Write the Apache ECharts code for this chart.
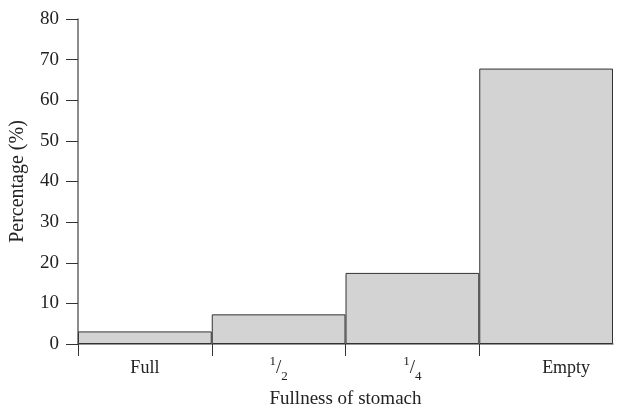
<!DOCTYPE html>
<html>
<head>
<meta charset="utf-8">
<style>
  html, body { margin: 0; padding: 0; background: #fff; }
  #chart { width: 619px; height: 408px; }
</style>
<script src="https://cdn.jsdelivr.net/npm/echarts@6/dist/echarts.min.js"></script>
</head>
<body>
<div id="chart"></div>
<script>
// Stomach fullness categories and the share of fish in each (%)
const categories = ['Full', '1/2', '1/4', 'Empty'];
const percentages = [3.1, 7.3, 17.5, 67.8];
const yTicks = { min: 0, max: 80, step: 10 };

const serif = '"Liberation Serif", "Times New Roman", serif';
const ink = '#222';
const chart = echarts.init(document.getElementById('chart'));

// Fractions are drawn as a raised numerator and lowered denominator
function categoryLabel(value, index) {
  const parts = value.split('/');
  if (parts.length === 2) {
    return '{n|' + parts[0] + '}{s|/}{d|' + parts[1] + '}';
  }
  if (index === categories.length - 1) {
    return '{shift|' + value + '}';
  }
  return '{t|' + value + '}';
}

// Bin boundaries for the tick marks under the category axis (no mark at the far end)
const boundaries = categories.map((_, i) => i);

chart.setOption({
  animation: false,
  backgroundColor: '#fff',
  grid: { left: 78, right: 6, top: 19, bottom: 64, containLabel: false, outerBoundsMode: 'none' },
  xAxis: [{
    type: 'category',
    data: categories,
    boundaryGap: true,
    name: 'Fullness of stomach',
    nameLocation: 'middle',
    nameGap: 46,
    nameTextStyle: { fontFamily: serif, fontSize: 19, color: ink },
    axisLine: { show: true, lineStyle: { color: '#777', width: 1.5 } },
    axisTick: { show: false },
    axisLabel: {
      margin: 8,
      formatter: categoryLabel,
      rich: {
        t: { fontFamily: serif, fontSize: 18, color: ink, lineHeight: 32, verticalAlign: 'middle' },
        shift: { fontFamily: serif, fontSize: 18, color: ink, lineHeight: 32, verticalAlign: 'middle', padding: [0, 0, 0, 40] },
        n: { fontFamily: serif, fontSize: 13, color: ink, lineHeight: 32, verticalAlign: 'top', padding: [3, 0, 0, 0] },
        s: { fontFamily: serif, fontSize: 19, color: ink, lineHeight: 32, verticalAlign: 'middle' },
        d: { fontFamily: serif, fontSize: 13, color: ink, lineHeight: 32, verticalAlign: 'bottom', padding: [0, 0, 1, 0] }
      }
    },
    splitLine: { show: false }
  }, {
    type: 'value',
    position: 'bottom',
    min: 0,
    max: categories.length,
    axisLine: { show: false },
    axisLabel: { show: false },
    splitLine: { show: false },
    axisTick: { show: true, length: 12, customValues: boundaries, lineStyle: { color: '#333', width: 1 } }
  }],
  yAxis: {
    type: 'value',
    min: yTicks.min,
    max: yTicks.max,
    interval: yTicks.step,
    name: 'Percentage (%)',
    nameLocation: 'middle',
    nameGap: 50,
    nameRotate: 90,
    nameTextStyle: { fontFamily: serif, fontSize: 20, color: ink },
    axisLine: { show: true, lineStyle: { color: '#666', width: 1.5 } },
    axisTick: { show: true, length: 12, lineStyle: { color: '#333', width: 1 } },
    axisLabel: { margin: 19, fontFamily: serif, fontSize: 19, color: ink },
    splitLine: { show: false }
  },
  series: [{
    type: 'bar',
    xAxisIndex: 0,
    data: percentages,
    barCategoryGap: 0,
    itemStyle: { color: '#d3d3d3', borderColor: '#333', borderWidth: 1 }
  }]
});
</script>
</body>
</html>
